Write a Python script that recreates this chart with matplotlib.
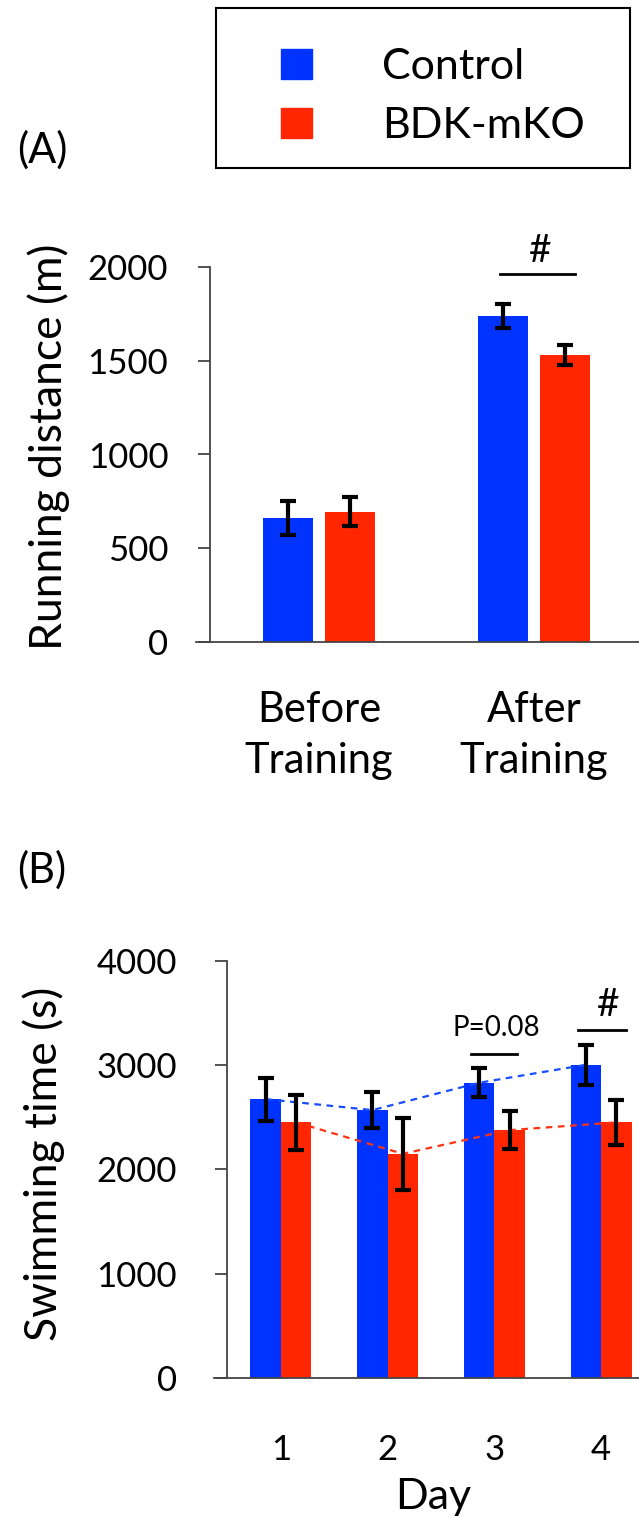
import numpy as np
import matplotlib
matplotlib.use("Agg")
from matplotlib import pyplot as plt
from matplotlib.patches import Patch, Rectangle

plt.rcParams["font.family"] = ["Lato", "DejaVu Sans"]

# panel A data
runGroups = ["Before\nTraining", "After\nTraining"]
runControl = [660, 1740]
runControlErr = [90, 65]
runKO = [695, 1531]
runKOErr = [78, 55]

# panel B data
swimDays = [1, 2, 3, 4]
swimControl = [2673, 2568, 2830, 3002]
swimControlErr = [205, 175, 140, 190]
swimKO = [2450, 2149, 2376, 2450]
swimKOErr = [265, 345, 185, 215]

blue = "#0033ff"
red = "#ff2600"

W, H = 639, 1517
fig = plt.figure(figsize=(W/100, H/100), dpi=100)

def styleAx(ax, pad):
    for s in ["top", "right"]:
        ax.spines[s].set_visible(False)
    for s in ["left", "bottom"]:
        ax.spines[s].set_color("#444444")
        ax.spines[s].set_linewidth(1.3)
    ax.tick_params(axis="y", direction="out", length=9, width=1.3, color="#444444", labelsize=25, pad=pad)
    ax.tick_params(axis="x", length=0, labelsize=25)

errKw = dict(ecolor="black", elinewidth=3, capsize=5.5, capthick=3)

# ---- panel A ----
axA = fig.add_axes([210/W, (H-642)/H, (W-210)/W, 375/H])
styleAx(axA, 21)
xA = np.arange(len(runGroups))
bw = 0.233
off = 0.144
axA.bar(xA-off, runControl, bw, color=blue, yerr=runControlErr, error_kw=errKw, zorder=2)
axA.bar(xA+off, runKO, bw, color=red, yerr=runKOErr, error_kw=errKw, zorder=2)
axA.set_xlim(-0.507, 1.488)
axA.set_ylim(0, 2000)
axA.set_yticks([0, 500, 1000, 1500, 2000])
axA.set_xticks(xA)
axA.set_xticklabels(runGroups, linespacing=1.42, fontsize=30)
axA.tick_params(axis="x", pad=35)
axA.spines["bottom"].set_bounds(-0.57, 1.488)
axA.plot([0.84, 1.19], [1961, 1961], color="black", lw=2, clip_on=False)
axA.text(1.03, 2085, "#", ha="center", va="center", fontsize=28)
fig.text(49/W, 1-447/H, "Running distance (m)", rotation=90, ha="center", va="center", fontsize=32)
fig.text(42/W, 1-150/H, "(A)", ha="center", va="center", fontsize=30)

# legend box
fig.patches.append(Rectangle((216/W, 1-168/H), (630-216)/W, 160/H, transform=fig.transFigure,
                             facecolor="none", edgecolor="black", lw=1.5))
handles = [Patch(facecolor=blue, edgecolor=blue), Patch(facecolor=red, edgecolor=red)]
leg = fig.legend(handles, ["Control", "BDK-mKO"], loc="upper left",
                 bbox_to_anchor=(281/W, 1-48/H), frameon=False, fontsize=31,
                 handlelength=0.72, handleheight=0.7, handletextpad=1.63,
                 borderpad=0, labelspacing=0.48, borderaxespad=0)

# ---- panel B ----
axB = fig.add_axes([227/W, (H-1378)/H, (W-227)/W, (1378-960.7)/H])
styleAx(axB, 27)
xB = np.array(swimDays, dtype=float)
bw2 = 0.286
off2 = 0.143
axB.bar(xB-off2, swimControl, bw2, color=blue, zorder=2)
axB.bar(xB+off2, swimKO, bw2, color=red, zorder=2)
axB.plot(xB-off2, swimControl, ls=(0, (3, 2.5)), color="#1a4dff", lw=1.6, zorder=3)
axB.plot(xB+off2, swimKO, ls=(0, (3, 2.5)), color="#ff3311", lw=1.6, zorder=3)
axB.errorbar(xB-off2, swimControl, yerr=swimControlErr, fmt="none", zorder=4, **errKw)
axB.errorbar(xB+off2, swimKO, yerr=swimKOErr, fmt="none", zorder=4, **errKw)
axB.set_xlim(0.494, 4.356)
axB.set_ylim(0, 4000)
axB.set_yticks([0, 1000, 2000, 3000, 4000])
axB.set_xticks(xB)
axB.tick_params(axis="x", pad=40)
axB.spines["bottom"].set_bounds(0.37, 4.356)
axB.set_xlabel("Day", fontsize=31, labelpad=9)
axB.plot([2.78, 3.21], [3108, 3108], color="black", lw=2, clip_on=False)
axB.text(3.02, 3357, "P=0.08", ha="center", va="center", fontsize=20)
axB.plot([3.78, 4.23], [3338, 3338], color="black", lw=2, clip_on=False)
axB.text(4.07, 3577, "#", ha="center", va="center", fontsize=28)
fig.text(44/W, 1-1164/H, "Swimming time (s)", rotation=90, ha="center", va="center", fontsize=32)
fig.text(42/W, 1-870/H, "(B)", ha="center", va="center", fontsize=30)

fig.savefig("out.png", dpi=100, facecolor="white")
